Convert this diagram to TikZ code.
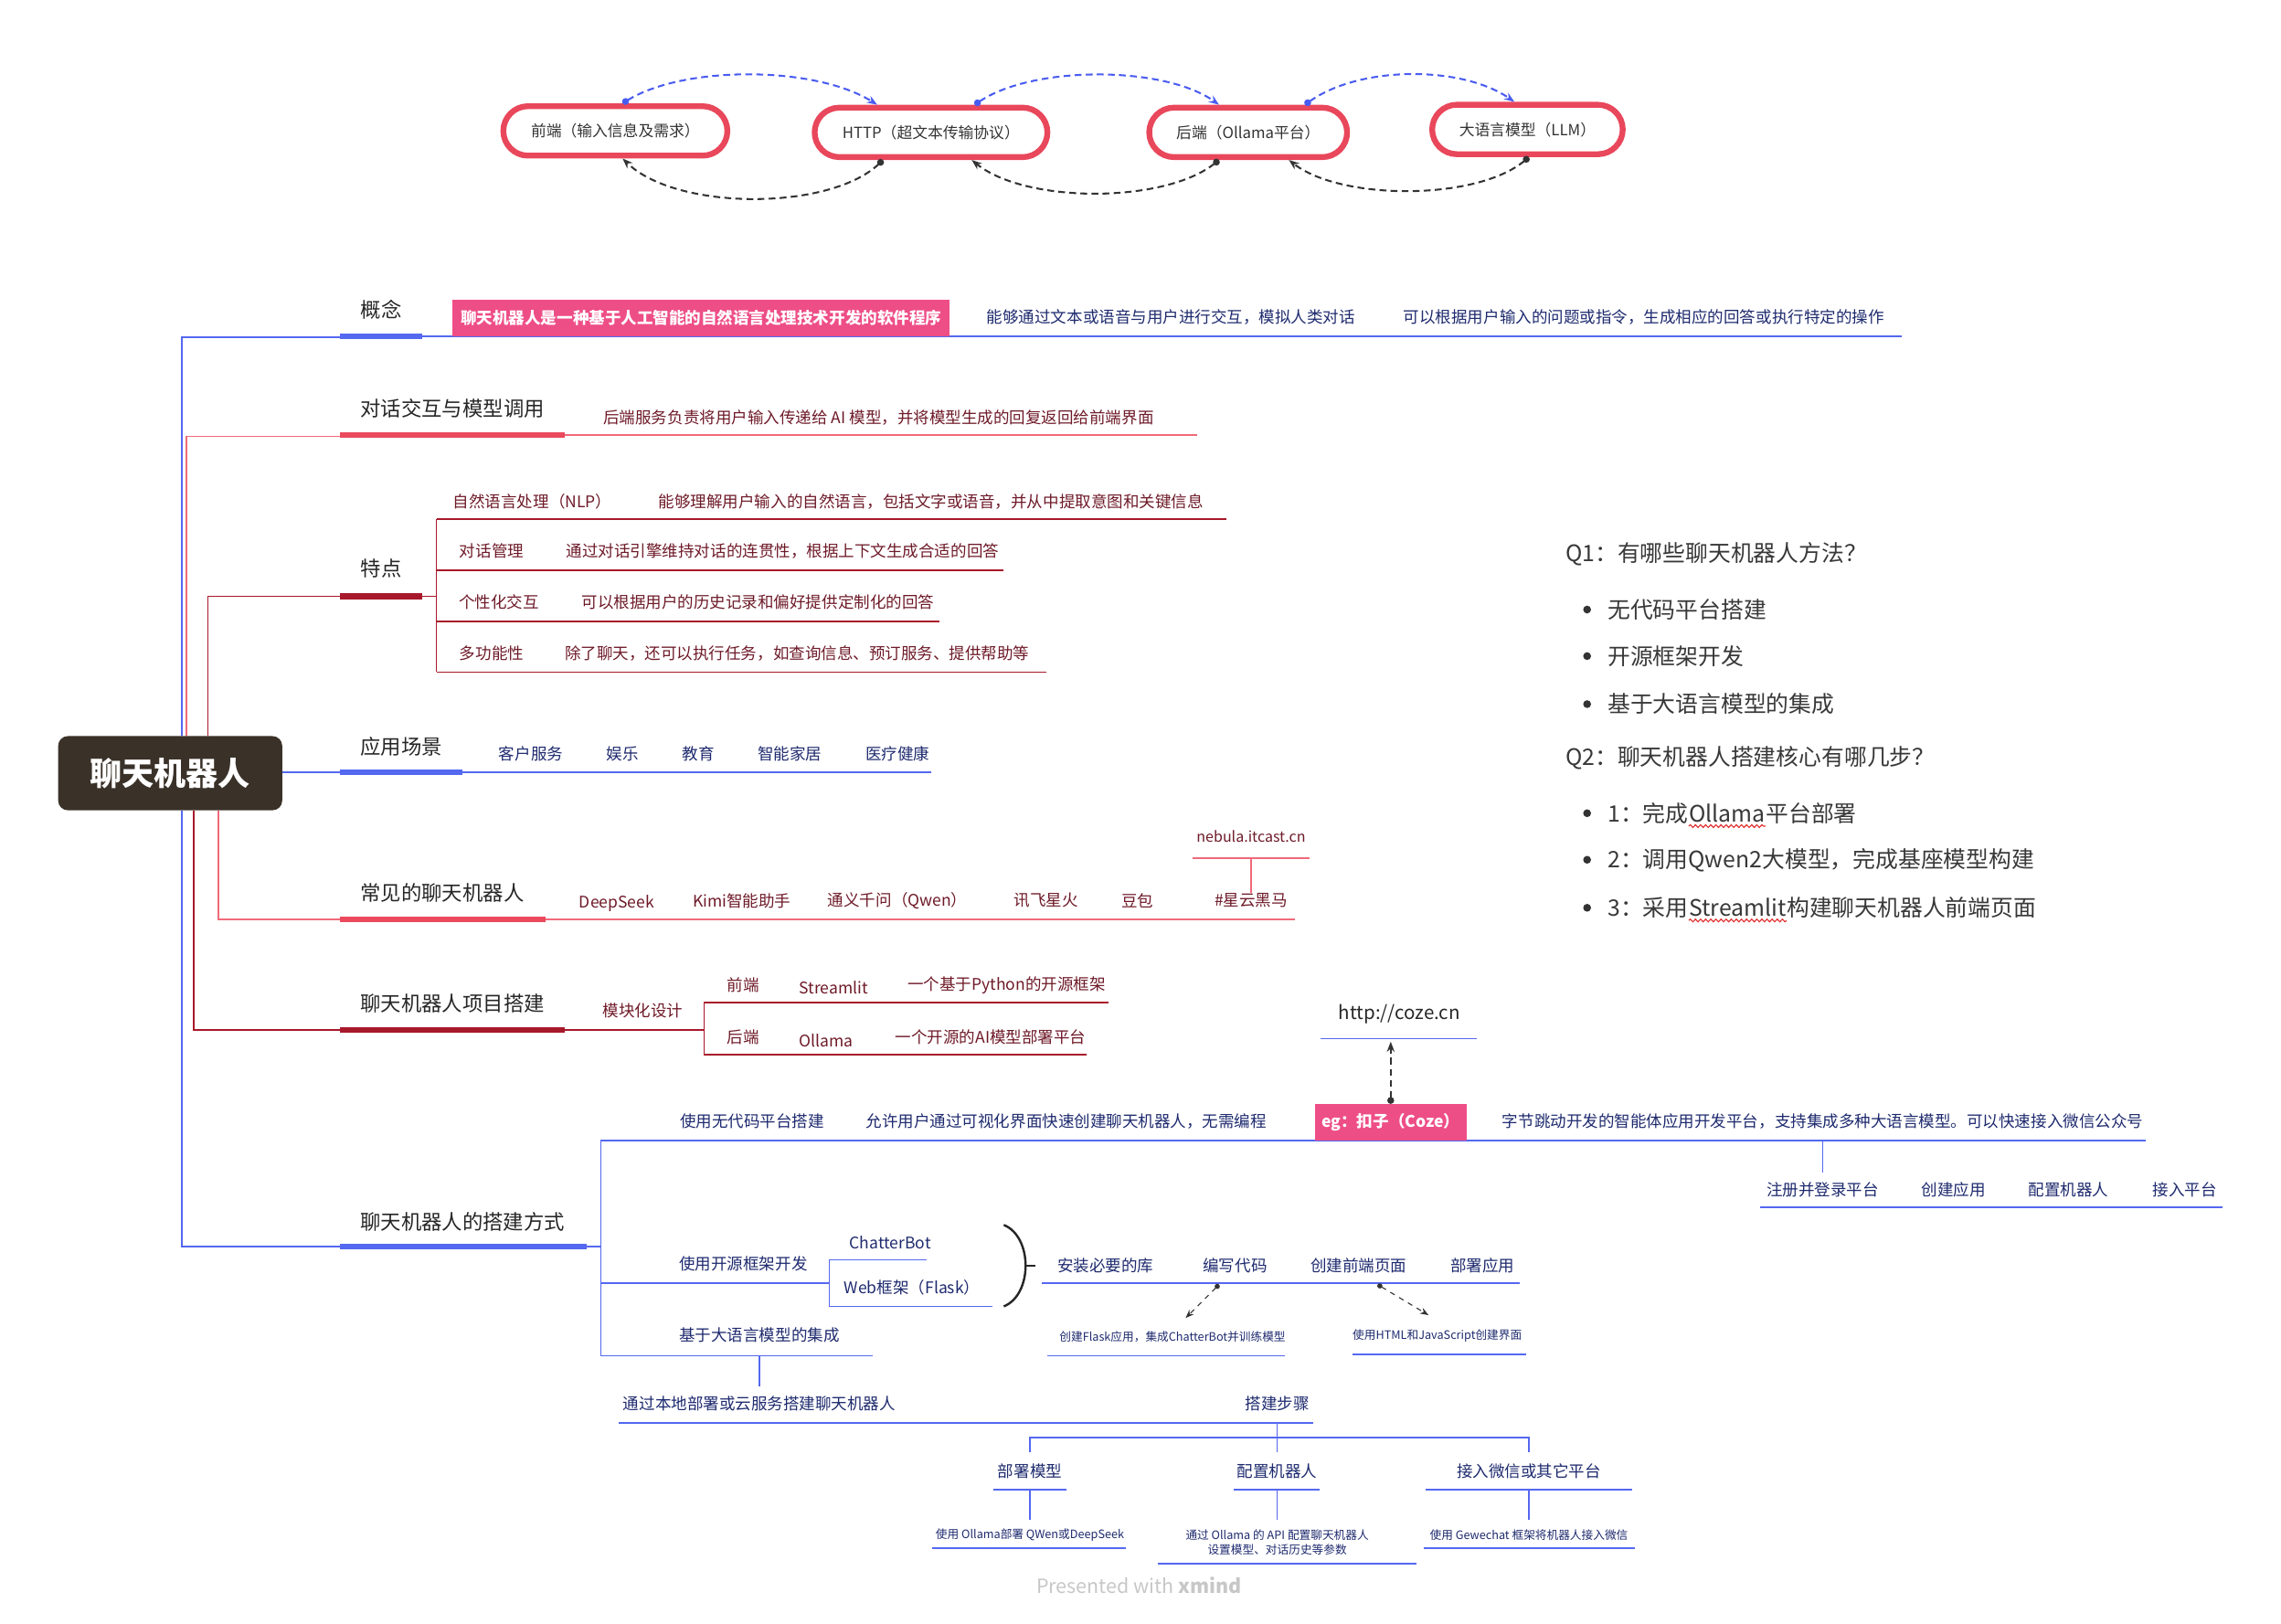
\documentclass[tikz,border=0pt]{standalone}
\usepackage{fontspec}
\setmainfont{Noto Sans CJK SC}
\usetikzlibrary{arrows.meta,calc,decorations.pathmorphing}
\definecolor{hub}{HTML}{3A3229}
\definecolor{navy}{HTML}{1E2A6E}
\definecolor{maroon}{HTML}{6E1A28}
\definecolor{linblue}{HTML}{5468F0}
\definecolor{linpink}{HTML}{F06A7A}
\definecolor{lindark}{HTML}{A8182B}
\definecolor{barpink}{HTML}{EA4A5C}
\definecolor{tagpink}{HTML}{EE4E86}
\definecolor{flowred}{HTML}{E9475B}
\definecolor{arrblue}{HTML}{4A5CF0}
\definecolor{wavered}{HTML}{E03030}

\begin{document}
\begin{tikzpicture}[x=0.3mm, y={(0,-0.3mm)}, >=Stealth,
  every node/.style={inner sep=0pt},
  hubnode/.style={fill=hub, text=white, rounded corners=2mm, minimum width=46.2mm, minimum height=15.3mm, font=\fontsize{18.8}{22}\selectfont\bfseries},
  topic/.style={text=black!85, font=\fontsize{12}{14}\selectfont},
  leafb/.style={text=navy, font=\fontsize{9.4}{11}\selectfont},
  leafr/.style={text=maroon, font=\fontsize{9.4}{11}\selectfont},
  tinyb/.style={text=navy, font=\fontsize{6.8}{8.5}\selectfont},
  tagbox/.style={fill=tagpink, text=white, minimum height=7.5mm, font=\fontsize{9.4}{11}\selectfont\bfseries},
  flowbox/.style={draw=flowred, line width=3.4pt, fill=white, rounded corners=5.1mm, minimum height=10.2mm, text=black!80, font=\fontsize{9}{11}\selectfont},
  qtext/.style={anchor=west, text=black!78, font=\fontsize{13.3}{16}\selectfont},
  qpart/.style={qtext, anchor=base west},
  dot/.style={circle, fill=black!80, minimum size=4.6pt},
  bl/.style={draw=linblue, line width=0.9pt},
  rl/.style={draw=linpink, line width=0.9pt},
  dl/.style={draw=lindark, line width=0.9pt},
  bar/.style={line width=3.4pt},
  wavy/.style={wavered, line width=0.6pt, decorate, decoration={snake, amplitude=0.8pt, segment length=3pt}},
  bluearc/.style={arrblue, dash pattern=on 4pt off 2.5pt, line width=1.1pt, {Circle[length=4pt]}-{Stealth[length=6pt]}},
  darkarc/.style={black!80, dash pattern=on 4pt off 2.5pt, line width=1.1pt, {Circle[length=4pt]}-{Stealth[length=6pt]}},
  hint/.style={black!80, dashed, line width=0.6pt, {Circle[length=3pt]}-{Stealth[length=5pt]}},
]
\useasboundingbox (0,0) rectangle (1568,1116);

\node[flowbox, minimum width=46.2mm] (fe) at (423,90) {前端（输入信息及需求）};
\node[flowbox, minimum width=48mm] (http) at (640,91) {HTTP（超文本传输协议）};
\node[flowbox, minimum width=40.8mm] (be) at (858,91) {后端（Ollama平台）};
\node[flowbox, minimum width=39.3mm] (llm) at (1050,89) {大语言模型（LLM）};
\draw[bluearc] ($(fe.north)+(5,0)$) .. controls (470,45) and (560,45) .. ($(http.north)+(-37,0)$);
\draw[bluearc] ($(http.north)+(30,0)$) .. controls (710,45) and (800,45) .. ($(be.north)+(-20,0)$);
\draw[bluearc] ($(be.north)+(39,0)$) .. controls (935,45) and (1005,45) .. ($(llm.north)+(-9,0)$);
\draw[darkarc] ($(http.south)+(-33,0)$) .. controls (570,145) and (465,145) .. ($(fe.south)+(5,0)$);
\draw[darkarc] ($(be.south)+(-20,0)$) .. controls (800,140) and (705,140) .. ($(http.south)+(28,0)$);
\draw[darkarc] ($(llm.south)+(1,0)$) .. controls (1015,138) and (922,138) .. ($(be.south)+(28,0)$);

\node[hubnode] (hub) at (117,531.5) {聊天机器人};
\draw[bl] (hub.north -| 125,0) -- (125,232) -- (234,232);
\draw[bl] (hub.south -| 125,0) -- (125,857) -- (234,857);
\draw[rl] (hub.north -| 128,0) -- (128,300) -- (234,300);
\draw[dl] (hub.north -| 143,0) -- (143,410) -- (234,410);
\draw[bl] (hub.east |- 0,531) -- (234,531);
\draw[rl] (hub.south -| 150,0) -- (150,632) -- (234,632);
\draw[dl] (hub.south -| 133,0) -- (133,708) -- (234,708);

\node[topic] (gn) at (262,213) {概念};
\draw[bar, linblue] (234,231) -- (290,231);
\draw[bl] (290,231) -- (1307,231);
\node[tagbox, minimum width=102.6mm] (def) at (482,218.5) {聊天机器人是一种基于人工智能的自然语言处理技术开发的软件程序};
\node[leafb] (def2) at (805,218) {能够通过文本或语音与用户进行交互，模拟人类对话};
\node[leafb] (def3) at (1130,218) {可以根据用户输入的问题或指令，生成相应的回答或执行特定的操作};

\node[topic] (dh) at (311,281) {对话交互与模型调用};
\draw[bar, barpink] (234,299) -- (388,299);
\draw[rl] (388,299) -- (823,299);
\node[leafr] (dh1) at (604,287) {后端服务负责将用户输入传递给 AI 模型，并将模型生成的回复返回给前端界面};

\node[topic] (td) at (262,391) {特点};
\draw[bar, lindark] (234,410) -- (290,410);
\draw[dl] (290,410) -- (300,410);
\draw[dl] (300,357) -- (300,462);
\draw[dl] (300,357) -- (843,357);
\draw[dl] (300,392) -- (690,392);
\draw[dl] (300,427) -- (646,427);
\draw[dl] (300,462) -- (719,462);
\node[leafr] (td1) at (366,345) {自然语言处理（NLP）};
\node[leafr] (td1a) at (640,345) {能够理解用户输入的自然语言，包括文字或语音，并从中提取意图和关键信息};
\node[leafr] (td2) at (338,379) {对话管理};
\node[leafr] (td2a) at (538,379) {通过对话引擎维持对话的连贯性，根据上下文生成合适的回答};
\node[leafr] (td3) at (343,414) {个性化交互};
\node[leafr] (td3a) at (521,414) {可以根据用户的历史记录和偏好提供定制化的回答};
\node[leafr] (td4) at (338,449) {多功能性};
\node[leafr] (td4a) at (548,449) {除了聊天，还可以执行任务，如查询信息、预订服务、提供帮助等};

\node[topic] (cj) at (276,513) {应用场景};
\draw[bar, linblue] (234,531) -- (318,531);
\draw[bl] (318,531) -- (640,531);
\node[leafb] (cj1) at (365,518) {客户服务};
\node[leafb] (cj2) at (428,518) {娱乐};
\node[leafb] (cj3) at (480,518) {教育};
\node[leafb] (cj4) at (543,518) {智能家居};
\node[leafb] (cj5) at (617,518) {医疗健康};

\node[topic] (cb) at (304,614) {常见的聊天机器人};
\draw[bar, barpink] (234,632) -- (375,632);
\draw[rl] (375,632) -- (890,632);
\node[leafr] (cb1) at (424,621) {DeepSeek};
\node[leafr] (cb2) at (510,619) {Kimi智能助手};
\node[leafr] (cb3) at (617,619) {通义千问（Qwen）};
\node[leafr] (cb4) at (719,619) {讯飞星火};
\node[leafr] (cb5) at (782,619) {豆包};
\node[leafr] (cb6) at (860,619) {\#星云黑马};
\node[leafr, font=\fontsize{8.6}{10}\selectfont] (web) at (860,575) {nebula.itcast.cn};
\draw[rl] (820,590) -- (900,590);
\draw[rl] (web.south |- 0,590) -- (cb6.north);

\node[topic] (xm) at (311,690) {聊天机器人项目搭建};
\draw[bar, lindark] (234,708) -- (388,708);
\draw[dl] (388,708) -- (484,708);
\draw[dl] (484,689) -- (484,725);
\draw[dl] (484,689) -- (762,689);
\draw[dl] (484,725) -- (747,725);
\node[leafr] (mk) at (442,695) {模块化设计};
\node[leafr] (qd) at (511,677) {前端};
\node[leafr] (st) at (573,679) {Streamlit};
\node[leafr] (stx) at (692,677) {一个基于Python的开源框架};
\node[leafr] (hd) at (511,713) {后端};
\node[leafr] (ol) at (568,715) {Ollama};
\node[leafr] (olx) at (681,713) {一个开源的AI模型部署平台};

\node[topic] (fs) at (318,840) {聊天机器人的搭建方式};
\draw[bar, linblue] (234,857) -- (403,857);
\draw[bl] (403,857) -- (413,857);
\draw[bl] (413,784) -- (413,932);
\draw[bl] (413,784) -- (1475,784);
\node[leafb] (wd) at (517,771) {使用无代码平台搭建};
\node[leafb] (wdx) at (733,771) {允许用户通过可视化界面快速创建聊天机器人，无需编程};
\node[tagbox, minimum width=31.2mm] (coze) at (956,771.5) {eg：扣子（Coze）};
\node[leafb] (cozex) at (1253,771) {字节跳动开发的智能体应用开发平台，支持集成多种大语言模型。可以快速接入微信公众号};
\node[topic, font=\fontsize{11}{13}\selectfont] (url) at (962,697) {http://coze.cn};
\draw[bl] (908,714) -- (1015,714);
\draw[darkarc, line width=0.9pt] (coze.north) -- (coze.north |- 0,716);
\draw[bl] (1253,784) -- (1253,806);
\draw[bl] (1210,830) -- (1528,830);
\node[leafb] (s1) at (1253,818) {注册并登录平台};
\node[leafb] (s2) at (1343,818) {创建应用};
\node[leafb] (s3) at (1422,818) {配置机器人};
\node[leafb] (s4) at (1502,818) {接入平台};

\draw[bl] (413,882) -- (570,882);
\draw[bl] (570,866) -- (570,898);
\draw[bl] (570,866) -- (637,866);
\draw[bl] (570,898) -- (682,898);
\node[leafb] (ky) at (511,869) {使用开源框架开发};
\node[leafb] (cbot) at (612,854) {ChatterBot};
\node[leafb] (flask) at (627,885) {Web框架（Flask）};
\draw[black!85, line width=1.3pt] (690,842) .. controls (710,850) and (710,890) .. (690,898);
\draw[black!85, line width=1.3pt] (704,870) -- (712,870);
\draw[bl] (716,882) -- (1045,882);
\node[leafb] (k1) at (760,870) {安装必要的库};
\node[leafb] (k2) at (849,870) {编写代码};
\node[leafb] (k3) at (934,870) {创建前端页面};
\node[leafb] (k4) at (1019,870) {部署应用};
\node[tinyb] (k2x) at (806,919) {创建Flask应用，集成ChatterBot并训练模型};
\node[tinyb] (k3x) at (988,918) {使用HTML和JavaScript创建界面};
\draw[bl] (720,932) -- (883,932);
\draw[bl] (930,931) -- (1049,931);
\draw[hint] (838,883) -- (815,906);
\draw[hint] (947,883) -- (982,904);

\draw[bl] (413,932) -- (600,932);
\node[leafb] (dy) at (522,918) {基于大语言模型的集成};
\draw[bl] (522,932) -- (522,953);
\node[leafb] (bd) at (522,965) {通过本地部署或云服务搭建聊天机器人};
\node[leafb] (bz) at (878,965) {搭建步骤};
\draw[bl] (425,978) -- (903,978);
\draw[bl] (878,978) -- (878,998);
\draw[bl] (708,998) -- (708,988) -- (1051,988) -- (1051,998);
\node[leafb] (b1) at (708,1011) {部署模型};
\node[leafb] (b2) at (878,1011) {配置机器人};
\node[leafb] (b3) at (1051,1011) {接入微信或其它平台};
\draw[bl] (683,1024) -- (733,1024);
\draw[bl] (848,1024) -- (907,1024);
\draw[bl] (980,1024) -- (1122,1024);
\draw[bl] (708,1024) -- (708,1045);
\draw[bl] (878,1024) -- (878,1045);
\draw[bl] (1051,1024) -- (1051,1045);
\node[tinyb] (b1x) at (708,1055) {使用 Ollama部署 QWen或DeepSeek};
\node[tinyb, align=center] (b2x) at (878,1060) {通过 Ollama 的 API 配置聊天机器人\\设置模型、对话历史等参数};
\node[tinyb] (b3x) at (1051,1055) {使用 Gewechat 框架将机器人接入微信};
\draw[bl] (641,1064) -- (774,1064);
\draw[bl] (796,1075) -- (974,1075);
\draw[bl] (979,1064) -- (1124,1064);

\node[text=black!22, font=\fontsize{11.5}{13}\selectfont] (pw) at (783,1090) {Presented with \textbf{xmind}};

\node[qtext] (q1) at (1076,381) {Q1：有哪些聊天机器人方法？};
\node[dot] (p1) at (1091,419) {};
\node[qtext] (a1) at (1105,419) {无代码平台搭建};
\node[dot] (p2) at (1091,451) {};
\node[qtext] (a2) at (1105,451) {开源框架开发};
\node[dot] (p3) at (1091,484) {};
\node[qtext] (a3) at (1105,484) {基于大语言模型的集成};
\node[qtext] (q2) at (1076,521) {Q2：聊天机器人搭建核心有哪几步？};
\node[dot] (p4) at (1091,559) {};
\node[qtext] (c1) at (1105,559) {1：完成};
\node[qpart] (c1w) at (c1.base east) {Ollama};
\node[qpart] (c1r) at (c1w.base east) {平台部署};
\node[dot] (p5) at (1091,591) {};
\node[qtext] (c2) at (1105,591) {2：调用Qwen2大模型，完成基座模型构建};
\node[dot] (p6) at (1091,624) {};
\node[qtext] (c3) at (1105,624) {3：采用};
\node[qpart] (c3w) at (c3.base east) {Streamlit};
\node[qpart] (c3r) at (c3w.base east) {构建聊天机器人前端页面};
\draw[wavy] ([yshift=-2.5pt]c1w.base west) -- ([yshift=-2.5pt]c1w.base east);
\draw[wavy] ([yshift=-2.5pt]c3w.base west) -- ([yshift=-2.5pt]c3w.base east);
\end{tikzpicture}
\end{document}
